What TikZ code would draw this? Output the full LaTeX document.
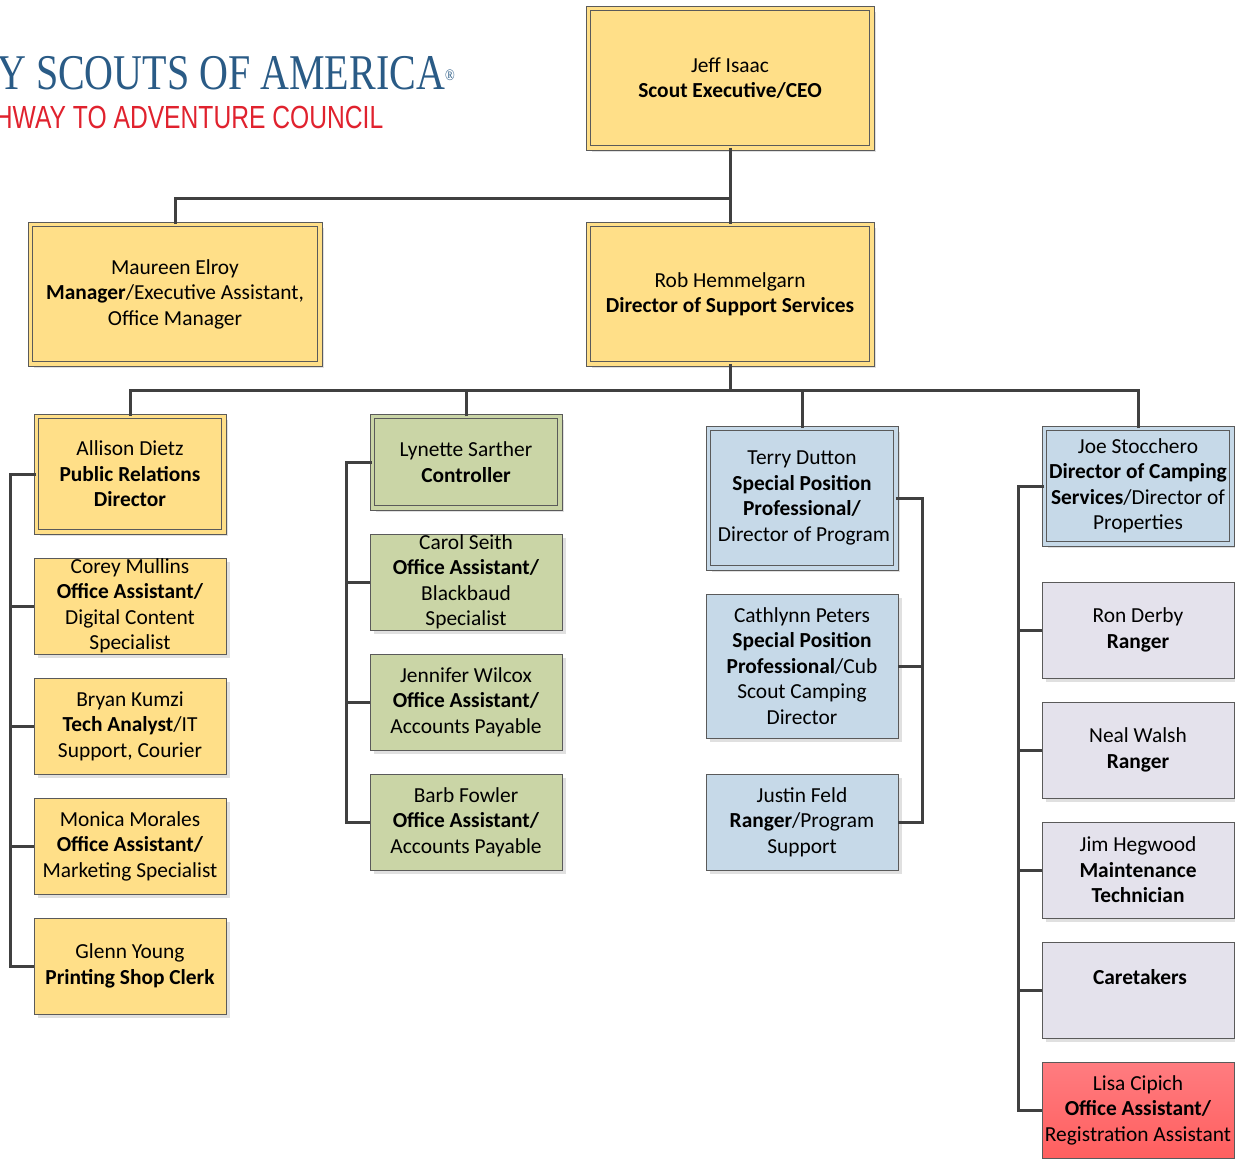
\documentclass[tikz,border=0pt]{standalone}
\usepackage{fontspec}
\setmainfont{Carlito}
\newfontfamily\logofont{Liberation Serif}
\newfontfamily\councilfont{Liberation Sans}
\usetikzlibrary{shadows}
\definecolor{boxyellow}{HTML}{FFDF88}
\definecolor{boxgreen}{HTML}{CAD5A6}
\definecolor{boxblue}{HTML}{C6D9E8}
\definecolor{boxlilac}{HTML}{E4E2EC}
\definecolor{boxedge}{HTML}{5A5A5A}
\definecolor{railgrey}{HTML}{404040}
\definecolor{logoblue}{HTML}{2A5B86}
\definecolor{logored}{HTML}{E0222E}
\definecolor{lisatop}{HTML}{FF7C80}
\definecolor{lisabottom}{HTML}{FF5F5F}
\tikzset{plainnode/.style={rectangle,draw=boxedge,line width=1pt,align=center,inner sep=0pt,outer sep=0pt,
    font=\fontsize{21.4}{25.5}\selectfont,text=black,minimum width=192,minimum height=96}}
\tikzset{orgnode/.style={plainnode,drop shadow={shadow xshift=4,shadow yshift=4,fill=black!12,opacity=1}}}
\tikzset{yellownode/.style={orgnode,fill=boxyellow}}
\tikzset{bluenode/.style={orgnode,fill=boxblue}}
\tikzset{greennode/.style={orgnode,fill=boxgreen}}
\tikzset{lilacnode/.style={orgnode,fill=boxlilac}}
\tikzset{yellowframe/.style={yellownode,double=boxyellow,double distance=3.4pt}}
\tikzset{blueframe/.style={bluenode,double=boxblue,double distance=3.4pt}}
\tikzset{greenframe/.style={greennode,double=boxgreen,double distance=3.4pt}}
\tikzset{rednode/.style={plainnode,top color=lisatop,bottom color=lisabottom}}
\tikzset{orgline/.style={draw=railgrey,line width=3pt}}

\begin{document}
\begin{tikzpicture}[x=1pt,y=-1pt]

\useasboundingbox (0, 0) rectangle (1235, 1160);

\begin{scope}
  \clip (0, 0) rectangle (1235, 1160);

  % logo
  \node [anchor=east, xscale=0.8, text=logoblue, font=\fontsize{50}{50}\logofont] (scouts) at (458, 73) {Y SCOUTS OF AMERICA\textsuperscript{\fontsize{16}{16}\selectfont®}};
  \node [anchor=east, xscale=0.77, text=logored, font=\fontsize{32}{32}\councilfont] (council) at (386, 117) {HWAY TO ADVENTURE COUNCIL};

\end{scope}

% nodes

\node [style = yellowframe, minimum width=283.6, minimum height=139.6] (jeff) at (730, 78) {Jeff Isaac\\\textbf{Scout Executive/CEO}};
\node [style = yellowframe, minimum width=289.6, minimum height=139.6] (maureen) at (175, 294) {Maureen Elroy\\\textbf{Manager}/Executive Assistant,\\Office Manager};
\node [style = yellowframe, minimum width=283.6, minimum height=139.6] (rob) at (730, 294) {Rob Hemmelgarn\\\textbf{Director of Support Services}};

\node [style = yellowframe, minimum width=187.6, minimum height=115.6] (allison) at (130, 474) {Allison Dietz\\\textbf{Public Relations}\\\textbf{Director}};
\node [style = yellownode] (corey) at (130, 606) {Corey Mullins\\\textbf{Office Assistant/}\\Digital Content\\Specialist};
\node [style = yellownode] (bryan) at (130, 726) {Bryan Kumzi\\\textbf{Tech Analyst}/IT\\Support, Courier};
\node [style = yellownode] (monica) at (130, 846) {Monica Morales\\\textbf{Office Assistant/}\\Marketing Specialist};
\node [style = yellownode] (glenn) at (130, 966) {Glenn Young\\\textbf{Printing Shop Clerk}};

\node [style = greenframe, minimum width=187.6, minimum height=91.6] (lynette) at (466, 462) {Lynette Sarther\\\textbf{Controller}};
\node [style = greennode] (carol) at (466, 582) {Carol Seith\\\textbf{Office Assistant/}\\Blackbaud\\Specialist};
\node [style = greennode] (jennifer) at (466, 702) {Jennifer Wilcox\\\textbf{Office Assistant/}\\Accounts Payable};
\node [style = greennode] (barb) at (466, 822) {Barb Fowler\\\textbf{Office Assistant/}\\Accounts Payable};

\node [style = blueframe, minimum width=187.6, minimum height=139.6] (terry) at (802, 498) {Terry Dutton\\\textbf{Special Position}\\\textbf{Professional/}\\\hspace{4pt}Director of Program};
\node [style = bluenode, minimum height=144] (cathlynn) at (802, 666) {Cathlynn Peters\\\textbf{Special Position}\\\textbf{Professional}/Cub\\Scout Camping\\Director};
\node [style = bluenode] (justin) at (802, 822) {Justin Feld\\\textbf{Ranger}/Program\\Support};

\node [style = blueframe, minimum width=187.6, minimum height=115.6] (joe) at (1138, 486) {Joe Stocchero\\\textbf{Director of Camping}\\\textbf{Services}/Director of\\Properties};
\node [style = lilacnode] (ron) at (1138, 630) {Ron Derby\\\textbf{Ranger}};
\node [style = lilacnode] (neal) at (1138, 750) {Neal Walsh\\\textbf{Ranger}};
\node [style = lilacnode] (jim) at (1138, 870) {Jim Hegwood\\\textbf{Maintenance}\\\textbf{Technician}};
\node [style = lilacnode] (caretakers) at (1138, 990) {\hspace{4pt}\textbf{Caretakers}\\\mbox{}};
\node [style = rednode] (lisa) at (1138, 1110) {Lisa Cipich\\\textbf{Office Assistant/}\\Registration Assistant};

\coordinate (topbus) at (730, 198);
\coordinate (subbus) at (730, 390);
\coordinate (prrail) at (10, 474);
\coordinate (finrail) at (346, 462);
\coordinate (prograil) at (922, 498);
\coordinate (camprail) at (1018, 486);

% edges

\draw [orgline] (jeff) to (rob);
\draw [orgline] (maureen.north) |- (topbus);
\draw [orgline] (rob.south) to (subbus);
\foreach \n in {allison, lynette, terry, joe}
  \draw [orgline] (\n.north) |- (subbus);

\draw [orgline] (allison.west) -- (prrail) |- (glenn.west);
\foreach \n in {corey, bryan, monica}
  \draw [orgline] (\n.west) -- (\n.west -| prrail);

\draw [orgline] (lynette.west) -- (finrail) |- (barb.west);
\foreach \n in {carol, jennifer}
  \draw [orgline] (\n.west) -- (\n.west -| finrail);

\draw [orgline] (terry.east) -- (prograil) |- (justin.east);
\draw [orgline] (cathlynn.east) -- (cathlynn.east -| prograil);

\draw [orgline] (joe.west) -- (camprail) |- (lisa.west);
\foreach \n in {ron, neal, jim, caretakers}
  \draw [orgline] (\n.west) -- (\n.west -| camprail);

\end{tikzpicture}
\end{document}
